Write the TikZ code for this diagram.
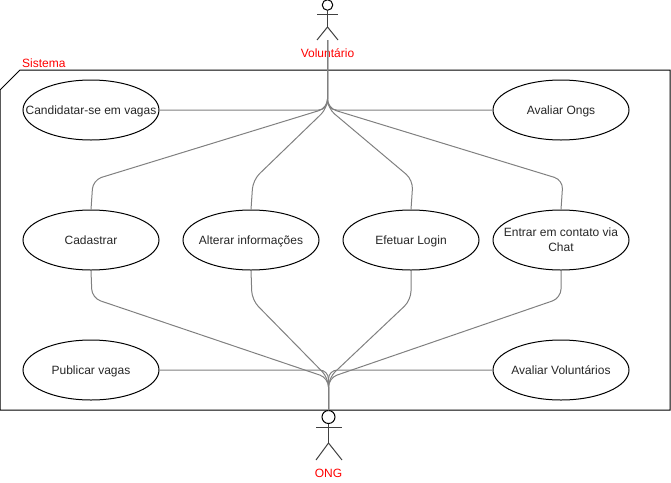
\documentclass[tikz,border=0pt]{standalone}
\usepackage{fontspec}
\setmainfont{Liberation Sans}
\usetikzlibrary{shapes.geometric}

\begin{document}
\begin{tikzpicture}[
    x=1pt, y=-1pt,
    usecase/.style={ellipse, draw, line width=1pt, minimum width=136pt, minimum height=60pt, inner xsep=-20pt, inner ysep=0pt, align=center, text height=11pt, text depth=2.6pt, font=\fontsize{12}{15}\selectfont, text=black!85},
    actorhead/.style={circle, draw, line width=1pt, inner sep=0pt},
    actorlabel/.style={text=red, font=\fontsize{12}{14}\selectfont, inner sep=0pt},
    link/.style={draw=gray, line width=1pt, rounded corners=9pt},
    limb/.style={draw=black!75, line width=1pt}
]
\useasboundingbox (0,0) rectangle (671,482);

% System frame
\draw[line width=1pt] (0,90) -- (20,70) -- (670,70) -- (670,410) -- (0,410) -- cycle;
\node[actorlabel, anchor=west] (sistema) at (22,63) {Sistema};

% Use cases
\node[usecase] (candidatar) at (91,110) {Candidatar-se em vagas};
\node[usecase] (avaliarongs) at (561,110) {Avaliar Ongs};
\node[usecase] (cadastrar) at (91,240) {Cadastrar};
\node[usecase] (alterar) at (251,240) {Alterar informações};
\node[usecase] (login) at (411,240) {Efetuar Login};
\node[usecase, text height=26pt] (chat) at (561,240) {Entrar em contato via\\Chat};
\node[usecase] (publicar) at (91,370) {Publicar vagas};
\node[usecase] (avaliarvol) at (561,370) {Avaliar Voluntários};

% Voluntario actor
\node[actorhead, minimum size=10.5pt] (headvol) at (327.5,5) {};
\coordinate (hipvol) at (327.5,27);
\coordinate (footvol) at (327.5,40);
\draw[limb] (headvol.south) -- (hipvol);
\draw[limb] (317,14) -- (338,14);
\draw[limb] (317,40) -- (hipvol) -- (338,40);
\node[actorlabel] (labelvol) at (327.5,53) {Voluntário};

% ONG actor
\node[actorhead, minimum size=13pt] (headong) at (328.5,417) {};
\coordinate (hipong) at (328.5,443);
\draw[limb] (headong.south) -- (hipong);
\draw[limb] (316,427) -- (342,427);
\draw[limb] (316,460) -- (hipong) -- (342,460);
\node[actorlabel] (labelong) at (328.5,473) {ONG};

% Voluntario links
\draw[link] (footvol) -- (327.5,110) -- (candidatar.east);
\draw[link] (footvol) -- (327.5,110) -- (avaliarongs.west);
\draw[link] (footvol) -- (327.5,108) -- (93,180) -- (cadastrar.north);
\draw[link] (footvol) -- (327.5,108) -- (253,180) -- (alterar.north);
\draw[link] (footvol) -- (327.5,108) -- (413,180) -- (login.north);
\draw[link] (footvol) -- (327.5,108) -- (563,180) -- (chat.north);

% ONG links
\draw[link] (headong.north) -- (328.5,370) -- (publicar.east);
\draw[link] (headong.north) -- (328.5,370) -- (avaliarvol.west);
\draw[link] (headong.north) -- (328.5,378) -- (92,298) -- (cadastrar.south);
\draw[link] (headong.north) -- (328.5,378) -- (252,300) -- (alterar.south);
\draw[link] (headong.north) -- (328.5,378) -- (411,300) -- (login.south);
\draw[link] (headong.north) -- (328.5,378) -- (561,298) -- (chat.south);

\end{tikzpicture}
\end{document}
